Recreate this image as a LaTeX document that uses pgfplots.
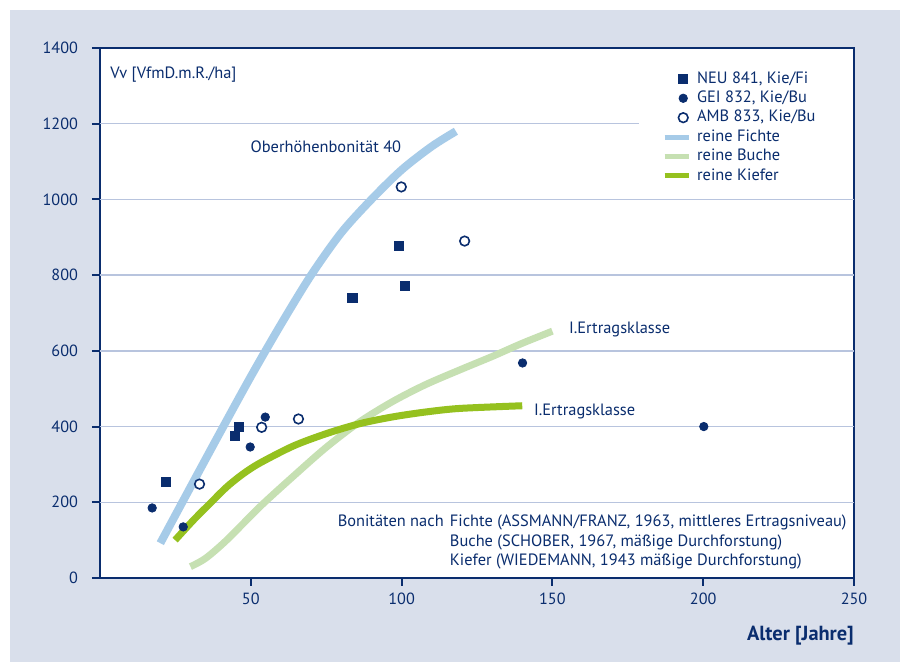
\documentclass[border=0pt]{standalone}
\usepackage{pgfplots}
\pgfplotsset{compat=1.18}
\usepackage{fontspec}
\setmainfont{PT Sans}
\definecolor{navy}{RGB}{10,45,110}
\definecolor{bgc}{RGB}{217,223,235}
\definecolor{gridc}{RGB}{184,196,222}
\definecolor{fichte}{RGB}{166,203,232}
\definecolor{buche}{RGB}{198,224,178}
\definecolor{kiefer}{RGB}{149,193,31}
\newcommand{\fs}{\fontsize{8.2}{10}\selectfont}
\pgfplotsset{
  markleg/.style={legend image code/.code={\path (0pt,0pt) (12pt,0pt); \draw[##1] plot coordinates {(9.3pt,0pt)};}},
  lineleg/.style={legend image code/.code={\draw[##1,line width=2.5pt] (0pt,0pt) -- (12pt,0pt);}},
}
\begin{document}
\begin{tikzpicture}
\path[use as bounding box] (0,0) rectangle (450pt,331pt);
\fill[bgc] (5pt,0) rectangle (450pt,326pt);
\begin{axis}[
  at={(50pt,42pt)}, anchor=south west,
  scale only axis, width=377pt, height=265pt,
  xmin=0, xmax=250, ymin=0, ymax=1400,
  axis background/.style={fill=white},
  axis line style={navy, line width=1pt},
  tick style={navy, line width=1pt},
  major tick length=4pt,
  tick align=outside, tick pos=left,
  xtick={50,100,150,200,250}, ytick={0,200,...,1400},
  ticklabel style={font=\fontsize{8.1}{10}\selectfont, text=navy},
  yticklabel style={xshift=-3.5pt},
  /pgf/number format/assume math mode=true,
  /pgf/number format/1000 sep={},
  clip=false,
  xlabel={Alter [Jahre]},
  ylabel={Vv [VfmD.m.R./ha]},
  every axis x label/.style={at={(rel axis cs:1,0)}, anchor=base east, inner sep=0pt, yshift=-31.5pt, font=\fontsize{10.2}{12}\selectfont\bfseries, text=navy},
  every axis y label/.style={at={(rel axis cs:0.0133,0.9415)}, anchor=base west, inner sep=0pt, font=\fs, text=navy},
  legend style={at={(rel axis cs:0.745,0.957)}, anchor=north west, draw=none, fill=none, inner sep=0pt,
    font=\fs, text=navy, row sep=2pt, column sep=3pt,
    nodes={inner sep=0pt, text height=6pt, text depth=1.7pt}},
  legend cell align=left,
]
\addlegendimage{markleg, only marks, mark=square*, mark size=2.3pt, navy}
\addlegendentry{NEU 841, Kie/Fi}
\addlegendimage{markleg, only marks, mark=*, mark size=2.1pt, navy}
\addlegendentry{GEI 832, Kie/Bu}
\addlegendimage{markleg, only marks, mark=*, mark size=2.4pt, mark options={draw=navy, fill=white, line width=0.8pt}}
\addlegendentry{AMB 833, Kie/Bu}
\addlegendimage{lineleg, fichte}
\addlegendentry{reine Fichte}
\addlegendimage{lineleg, buche}
\addlegendentry{reine Buche}
\addlegendimage{lineleg, kiefer}
\addlegendentry{reine Kiefer}

% grid lines
\draw[gridc, line width=0.75pt] (axis cs:0,200) -- (axis cs:250,200);
\draw[gridc, line width=0.75pt] (axis cs:0,400) -- (axis cs:250,400);
\draw[gridc, line width=0.75pt] (axis cs:0,600) -- (axis cs:250,600);
\draw[gridc, line width=0.75pt] (axis cs:0,800) -- (axis cs:250,800);
\draw[gridc, line width=0.75pt] (axis cs:0,1000) -- (axis cs:250,1000);
\draw[gridc, line width=0.75pt] (axis cs:0,1200) -- (axis cs:178.6,1200);

% curves
\addplot[forget plot, buche, line width=3.5pt, smooth] coordinates {
(30,30)(35,52)(42,100)(53,188)(64,268)(75,345)(86,412)(97,466)(108,511)(120,552)(130,585)(140,620)(150,652)};
\addplot[forget plot, kiefer, line width=3.5pt, smooth] coordinates {
(24.9,100)(31,153)(36.5,197)(42.1,241)(47.6,276)(53.1,304)(64.2,349)(75.3,382)(86.3,408)(97.4,426)(108.5,439)(119.5,448)(140,455)};
\addplot[forget plot, fichte, line width=4pt, smooth] coordinates {
(20,92)(30,240)(40,387)(50,532)(60,670)(70,800)(80,912)(90,1000)(100,1078)(110,1140)(118,1180)};

% points
\addplot[forget plot, only marks, mark=square*, mark size=2.3pt, navy] coordinates {
(21.9,254)(46.1,399)(44.6,375)(83.7,740)(99.0,877)(101.0,771)};
\addplot[forget plot, only marks, mark=*, mark size=2.1pt, navy] coordinates {
(17.3,185)(27.6,135)(49.8,346)(54.8,425)(140.1,568)(200.2,400)};
\addplot[forget plot, only marks, mark=*, mark size=2.4pt, mark options={draw=navy, fill=white, line width=0.8pt}] coordinates {
(33,248)(53.6,398)(65.8,420)(99.9,1033)(120.9,890)};

% annotations
\begin{scope}[every node/.style={font=\fs, text=navy, inner sep=0pt}]
\node[anchor=base west] at (axis cs:49.8,1125) {Oberhöhenbonität 40};
\node[anchor=base west] at (axis cs:155.4,647) {I.Ertragsklasse};
\node[anchor=base west] at (axis cs:143.8,428) {I.Ertragsklasse};
\node[anchor=base west] at (axis cs:78.7,134.7) {Bonitäten nach};
\node[anchor=base west] at (axis cs:115.9,134.7) {Fichte (ASSMANN/FRANZ, 1963, mittleres Ertragsniveau)};
\node[anchor=base west] at (axis cs:115.9,84.5) {Buche (SCHOBER, 1967, mäßige Durchforstung)};
\node[anchor=base west] at (axis cs:115.9,34.3) {Kiefer (WIEDEMANN, 1943 mäßige Durchforstung)};
\end{scope}
\end{axis}
\end{tikzpicture}
\end{document}
